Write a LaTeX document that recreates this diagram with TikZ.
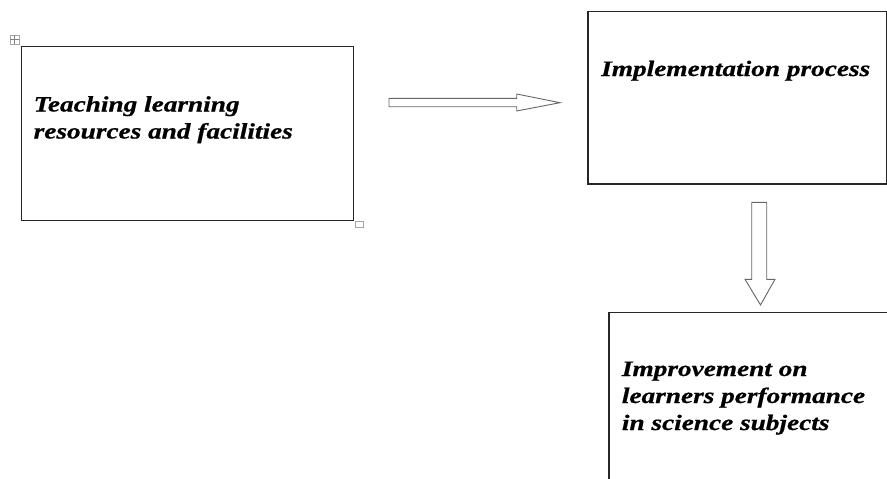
\documentclass[tikz,border=0pt]{standalone}
\usepackage{fontspec}
\setmainfont{Liberation Serif}[FakeStretch=1.25]
\newfontfamily\lblfont{Liberation Serif}[FakeStretch=1.24, FakeBold=0.7]
\begin{document}
\begin{tikzpicture}[x=1pt,y=-1pt,
  box/.style={draw=black!85, line width=1.2pt, inner sep=0pt, anchor=north west},
  blockarrow/.style={draw=black!60, line width=0.9pt, fill=white, line join=miter},
  lbl/.style={font=\lblfont\fontsize{22}{27}\selectfont\bfseries\itshape, align=left, inner sep=0pt, anchor=base west},
  handle/.style={draw=black!35, line width=0.8pt, fill=white, inner sep=0pt}]
\useasboundingbox (0,0) rectangle (887,479);
% boxes
\node[box, minimum width=332pt, minimum height=174pt] (b1) at (20.5,45.5) {};
\node[box, minimum width=299pt, minimum height=172.6pt] (b2) at (587.3,10.7) {};
\node[box, minimum width=300pt, minimum height=200pt] (b3) at (608.3,311.7) {};
% labels (base anchor = last line)
\node[lbl] (t1) at (33.5,138.5) {Teaching learning\\resources and facilities};
\node[lbl] (t2) at (601,76) {Implementation process};
\node[lbl] (t3) at (621.7,430) {Improvement on\\learners performance\\in science subjects};
% block arrows
\draw[blockarrow] (389,98.3) -- (516.7,98.3) -- (516.7,94) -- (560,102.7) -- (516.7,111) -- (516.7,106.7) -- (389,106.7) -- cycle;
\draw[blockarrow] (751.7,202.3) -- (766.7,202.3) -- (766.7,279.3) -- (775,279.3) -- (760.5,305) -- (745,279.3) -- (751.7,279.3) -- cycle;
% word handles
\node[handle, minimum size=9pt, anchor=north west] (h1) at (9.5,34.5) {};
\draw[black!50, line width=0.5pt] (h1.north) -- (h1.south) (h1.west) -- (h1.east);
\node[handle, minimum width=8pt, minimum height=6pt, anchor=north west] (h2) at (354.5,221) {};
\end{tikzpicture}
\end{document}
